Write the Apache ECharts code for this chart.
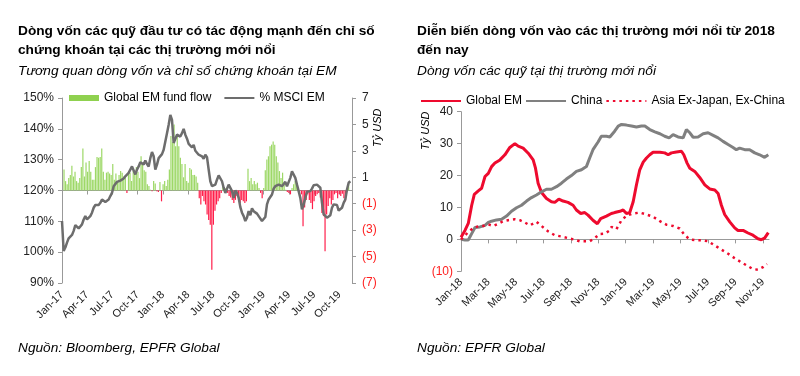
<!DOCTYPE html>
<html><head><meta charset="utf-8">
<script src="https://cdn.jsdelivr.net/npm/echarts@6/dist/echarts.min.js"></script>
<style>html,body{margin:0;padding:0;background:#fff}#c{width:800px;height:376px}</style>
</head><body><div id="c"></div>
<script>
// ---------- LEFT CHART DATA (x in months since Jan-2017) ----------
const leftTickMonths = [0,3,6,9,12,15,18,21,24,27,30,33];
const leftTickLabels = ['Jan-17','Apr-17','Jul-17','Oct-17','Jan-18','Apr-18','Jul-18','Oct-18','Jan-19','Apr-19','Jul-19','Oct-19'];
const flowFirstMonth = 0.24, flowLastMonth = 34.1;   // weekly EPFR observations span
const flowValues = [1.59,0.71,0.47,0.94,1.18,1.88,1.06,1.41,0.71,0.59,0.94,1.77,3.18,1.06,2.12,1.41,2.24,1.41,0.82,0.82,1.77,2.53,2.47,2.53,3.18,1.41,0.82,1.35,1.41,1.29,1.18,2.0,0.82,1.29,0.71,1.18,1.47,1.35,1.06,1.06,-0.18,1.41,1.35,0.71,1.47,1.29,1.77,1.41,0.94,2.59,2.12,1.53,1.41,0.47,0.35,0.06,-0.06,0.71,0.53,-0.06,-0.12,0.65,-0.82,0.47,0.71,0.35,0.82,1.59,4.12,3.65,5.0,3.35,4.12,3.35,2.47,2.0,1.0,2.0,0.71,0.59,1.71,1.59,1.18,1.18,1.06,0.59,-0.59,-1.06,-0.41,-0.82,-1.06,-1.82,-2.24,-2.59,-6.0,-2.59,-1.53,-1.06,-0.82,-0.59,-0.18,0.47,0.24,0.18,-0.18,-0.41,-0.53,-0.71,-0.94,-0.71,-0.41,-0.71,-0.94,-0.71,-0.82,-0.94,-0.82,1.65,0.71,0.94,0.47,0.71,0.47,0.59,0.18,-0.18,-0.59,0.18,1.53,2.35,2.59,3.35,3.47,3.71,3.47,2.59,2.12,1.47,0.94,1.35,0.47,0.06,-0.12,-0.18,-0.29,0.18,0.47,0.71,0.35,0.06,-0.06,-0.29,-2.71,-1.29,-0.71,-0.29,-0.71,-0.94,-1.41,-0.82,-0.41,-0.29,-0.18,-0.53,-1.71,-1.94,-4.59,-1.82,-1.18,-0.59,-1.06,-0.71,-0.29,-0.18,-0.59,-0.29,-0.41,-0.24,-0.59,-0.82,0.18,0.47];
const msciFirstMonth = 0, msciLastMonth = 34.3;
const msciValues = [110.1,100.4,101.5,103.1,104.5,104.9,105.6,106.9,108.8,109.0,107.7,107.4,109.0,110.6,111.7,110.6,110.1,111.7,112.8,114.4,115.3,115.5,115.3,116.0,117.1,116.8,116.3,116.6,117.1,118.2,119.2,121.4,121.9,122.8,122.5,123.2,123.0,123.9,124.6,125.2,125.7,126.8,127.8,126.5,125.2,126.8,127.8,129.2,129.2,128.4,129.7,128.6,127.8,130.5,132.5,131.1,126.8,128.4,130.5,130.8,131.8,133.2,135.9,138.6,141.3,144.5,142.9,135.4,135.9,138.1,138.6,137.5,138.6,140.0,138.1,136.8,135.1,135.4,134.0,134.8,132.9,132.5,131.6,132.2,131.1,130.3,131.6,130.8,126.8,123.0,121.4,121.1,121.9,123.5,124.9,124.3,123.0,120.9,119.2,119.8,121.9,122.5,119.8,117.6,120.0,119.2,117.6,114.6,112.8,111.7,110.1,111.2,113.3,112.0,114.2,113.3,113.9,112.5,111.7,111.2,110.1,109.9,111.4,115.5,117.1,117.6,118.7,120.6,121.4,121.4,121.9,122.2,121.4,121.9,122.8,121.4,120.9,124.1,126.2,125.7,124.1,121.9,119.8,117.6,113.9,115.5,117.6,119.6,120.0,119.8,120.6,121.7,121.4,121.9,121.9,120.9,116.0,112.3,111.7,111.2,111.7,112.0,114.4,115.5,115.7,115.3,113.5,113.9,114.4,116.0,117.1,120.3,122.5,123.0];
const leftRightTicks = [-7,-5,-3,-1,1,3,5,7];

// ---------- RIGHT CHART DATA (x in months since Jan-2018) ----------
const rightTickMonths = [0,2,4,6,8,10,12,14,16,18,20,22];
const rightTickLabels = ['Jan-18','Mar-18','May-18','Jul-18','Sep-18','Nov-18','Jan-19','Mar-19','May-19','Jul-19','Sep-19','Nov-19'];
const emMonths = [0,0.29,0.53,0.78,0.97,1.26,1.5,1.75,1.99,2.23,2.47,2.84,3.2,3.56,3.93,4.17,4.53,4.9,5.26,5.43,5.62,5.87,6.23,6.59,6.84,7.13,7.44,7.8,8.17,8.41,8.73,9.02,9.26,9.62,9.94,10.18,10.6,10.96,11.2,11.58,11.82,12.06,12.3,12.55,12.79,13.03,13.28,13.52,13.76,14.0,14.5,14.85,15.1,15.34,15.7,16.07,16.24,16.48,16.68,17.04,17.4,17.77,18.13,18.5,18.74,18.98,19.22,19.59,19.95,20.19,20.56,20.92,21.28,21.65,21.89,22.13,22.4];
const emValues = [0.7,2.8,5,10.7,14.1,15.2,16,19.7,20.7,22.8,23.9,24.9,26.5,28.8,30,29.2,28.6,27,24.9,22.3,17.6,14.7,12.8,11.8,11.6,12.6,12,11.6,10.7,9.2,8.1,8.4,7.6,6,4.9,6.5,7.3,8.1,8.4,8.8,9.2,8.1,8.4,11.8,17.1,21.8,24.2,25.5,26.5,27.3,27.3,27.1,26.5,27.1,27.4,27.6,26.5,23.9,22.3,21.3,19.4,17.1,15.8,15.5,14.4,10.7,7.8,5.5,3.6,2.8,2.8,2,1.3,0.2,-0.1,0.4,2.1];
const chinaMonths = [0,0.29,0.53,0.78,1.02,1.38,1.75,1.99,2.23,2.59,2.96,3.32,3.68,4.05,4.41,4.78,5.14,5.5,5.87,6.23,6.59,6.96,7.32,7.68,8.05,8.41,8.78,9.14,9.38,9.62,9.99,10.23,10.6,10.85,11.2,11.46,11.7,12.06,12.43,12.79,13.15,13.4,13.76,14.13,14.5,14.85,15.17,15.46,15.82,16.19,16.43,16.68,16.92,17.28,17.65,18.01,18.38,18.74,19.1,19.47,19.83,20.07,20.31,20.68,21.04,21.41,21.77,22.13,22.4];
const chinaValues = [0,-0.2,-0.2,1.8,3.7,3.9,4.4,5.3,5.7,6.1,6.3,7.3,8.8,9.9,10.7,12,13.1,13.9,14.9,15.7,15.7,16.5,17.6,18.9,20,21.3,21.8,22.8,25.5,28.1,30.5,32.3,32.3,32.1,33.9,35.5,36,35.8,35.5,35.2,35.5,35.5,34.4,33.7,33.1,32.3,31.8,32.8,32.1,31.8,34.4,33.4,32,32.1,33.1,33.4,32.6,31.8,30.7,29.7,28.8,28.1,28.6,28.1,28.1,27.1,26.5,25.7,26.5];
const asiaMonths = [0,0.17,0.53,0.9,1.26,1.62,1.99,2.35,2.72,3.08,3.44,3.93,4.29,4.65,5.02,5.5,5.87,6.35,6.84,7.32,7.8,8.29,8.65,9.02,9.38,9.75,10.11,10.47,10.84,10.97,11.33,11.7,12.06,12.55,13.03,13.52,14.0,14.5,14.97,15.46,15.94,16.31,16.68,17.16,17.65,18.01,18.5,18.98,19.47,19.95,20.44,20.92,21.28,21.65,22.01,22.3];
const asiaValues = [0,0.7,2.3,3.6,4.1,4.2,4.7,4.2,4.9,5.7,6,6.3,6,5.3,4.4,5.5,4.2,2.5,1.3,0.9,0.4,-0.1,-0.6,-0.6,-0.6,0.4,1.7,1.8,2.8,3.9,3.2,6,7.4,8.1,8.4,7.8,7.1,5.7,4.6,4.2,3.4,1.3,0,-0.3,-0.3,-0.6,-1.9,-3.2,-4.5,-5.9,-7.2,-8.4,-9.3,-9.5,-8.7,-7.7];

// ---------- BUILD ----------
const FONT = '"Liberation Sans", Arial, sans-serif';
const even = (vals, a, b) => vals.map((v, i) => [a + i * (b - a) / (vals.length - 1), v]);
const pairs = (xs, ys) => xs.map((x, i) => [x, ys[i]]);
const paren = v => v < 0 ? '(' + (-v) + ')' : String(v);

const chart = echarts.init(document.getElementById('c'), null, {renderer: 'canvas'});
const tTitle = (x, y, s) => ({type: 'text', left: x, top: y, style: {text: s, font: 'bold 13.7px ' + FONT, fill: '#000'}});
const tItal = (x, y, s) => ({type: 'text', left: x, top: y, style: {text: s, font: 'italic 13.7px ' + FONT, fill: '#000'}});
const noSym = {opacity: 0};

chart.setOption({
  animation: false,
  textStyle: {fontFamily: FONT},
  graphic: [
    tTitle(18, 24, 'Dòng vốn các quỹ đầu tư có tác động mạnh đến chỉ số'),
    tTitle(18, 43, 'chứng khoán tại các thị trường mới nổi'),
    tItal(18, 64, 'Tương quan dòng vốn và chỉ số chứng khoán tại EM'),
    tItal(18, 341, 'Nguồn: Bloomberg, EPFR Global'),
    tTitle(417, 24, 'Diễn biến dòng vốn vào các thị trường mới nổi từ 2018'),
    tTitle(417, 43, 'đến nay'),
    tItal(417, 64, 'Dòng vốn các quỹ tại thị trường mới nổi'),
    tItal(417, 341, 'Nguồn: EPFR Global'),
    {type: 'text', x: 372, y: 147, rotation: Math.PI / 2, style: {text: 'Tỷ USD', font: 'italic 11px ' + FONT, fill: '#000'}},
    {type: 'text', x: 420, y: 150, rotation: Math.PI / 2, style: {text: 'Tỷ USD', font: 'italic 11px ' + FONT, fill: '#000'}}
  ],
  legend: [
    {left: 64, top: 87, itemWidth: 30, itemHeight: 6, itemGap: 12,
     textStyle: {fontSize: 12, color: '#000'},
     data: [{name: 'Global EM fund flow', icon: 'rect'}, {name: '% MSCI EM', itemStyle: noSym}]},
    {left: 415, top: 90, width: 385, itemWidth: 40, itemHeight: 10, itemGap: 3,
     textStyle: {fontSize: 12, color: '#000'},
     data: [{name: 'Global EM', itemStyle: noSym}, {name: 'China', itemStyle: noSym}, {name: 'Asia Ex-Japan, Ex-China', itemStyle: noSym}]}
  ],
  grid: [
    {left: 62, top: 98, width: 290, height: 185},
    {left: 461, top: 111.7, width: 308, height: 159.6}
  ],
  xAxis: [
    {type: 'value', gridIndex: 0, min: 0, max: 34.5, splitLine: {show: false},
     axisLine: {lineStyle: {color: '#999'}}, axisTick: {customValues: leftTickMonths, length: 4, lineStyle: {color: '#999'}},
     axisLabel: {customValues: leftTickMonths, rotate: 45, fontSize: 11, color: '#222', margin: 10,
       formatter: v => leftTickLabels[leftTickMonths.indexOf(Math.round(v))] || ''}},
    {type: 'value', gridIndex: 1, position: 'bottom', min: 0, max: 22.45, splitLine: {show: false},
     axisLine: {show: false, onZero: false}, axisTick: {show: false},
     axisLabel: {customValues: rightTickMonths, rotate: 45, fontSize: 11, color: '#222', margin: 9,
       formatter: v => rightTickLabels[rightTickMonths.indexOf(Math.round(v))] || ''}},
    {type: 'value', gridIndex: 1, position: 'top', min: 0, max: 22.45, splitLine: {show: false},
     axisLine: {show: true, onZero: true, lineStyle: {color: '#999'}},
     axisTick: {show: true, inside: true, customValues: rightTickMonths, length: 4, lineStyle: {color: '#999'}},
     axisLabel: {show: false}}
  ],
  yAxis: [
    {type: 'value', gridIndex: 0, min: 90, max: 150, interval: 10, splitLine: {show: false},
     axisLine: {show: true, lineStyle: {color: '#999'}}, axisTick: {show: true, length: 4, lineStyle: {color: '#999'}},
     axisLabel: {fontSize: 12, color: '#222', margin: 8, formatter: v => v + '%'}},
    {type: 'value', gridIndex: 0, position: 'right', min: -7, max: 7, splitLine: {show: false},
     axisLine: {show: true, lineStyle: {color: '#999'}},
     axisTick: {show: true, length: 4, customValues: leftRightTicks, lineStyle: {color: '#999'}},
     axisLabel: {customValues: leftRightTicks, fontSize: 12, margin: 10, formatter: paren,
       color: v => Number(v) < 0 ? '#ff2020' : '#222'}},
    {type: 'value', gridIndex: 1, min: -10, max: 40, interval: 10, splitLine: {show: false},
     axisLine: {show: true, lineStyle: {color: '#999'}}, axisTick: {show: true, length: 4, lineStyle: {color: '#999'}},
     axisLabel: {fontSize: 12, margin: 8, formatter: paren, color: v => Number(v) < 0 ? '#ff2020' : '#222'}}
  ],
  series: [
    {name: 'Global EM fund flow', type: 'bar', xAxisIndex: 0, yAxisIndex: 1, barWidth: 1.2,
     data: even(flowValues, flowFirstMonth, flowLastMonth).map(d => ({value: d, itemStyle: {color: d[1] < 0 ? '#ff1f4b' : '#9dd867'}})),
     itemStyle: {color: '#8fd14f'}},
    {name: '% MSCI EM', type: 'line', xAxisIndex: 0, yAxisIndex: 0, symbol: 'none', smooth: false,
     lineStyle: {color: '#6d6d6d', width: 2.5}, itemStyle: {color: '#6d6d6d'},
     data: even(msciValues, msciFirstMonth, msciLastMonth)},
    {name: 'Global EM', type: 'line', xAxisIndex: 1, yAxisIndex: 2, symbol: 'none',
     lineStyle: {color: '#ee0a2e', width: 3}, itemStyle: {color: '#ee0a2e'}, data: pairs(emMonths, emValues)},
    {name: 'China', type: 'line', xAxisIndex: 1, yAxisIndex: 2, symbol: 'none',
     lineStyle: {color: '#808080', width: 3}, itemStyle: {color: '#808080'}, data: pairs(chinaMonths, chinaValues)},
    {name: 'Asia Ex-Japan, Ex-China', type: 'line', xAxisIndex: 1, yAxisIndex: 2, symbol: 'none',
     lineStyle: {color: '#ee0a2e', width: 2.5, type: [2.5, 4]}, itemStyle: {color: '#ee0a2e'}, data: pairs(asiaMonths, asiaValues)}
  ]
});
</script></body></html>
